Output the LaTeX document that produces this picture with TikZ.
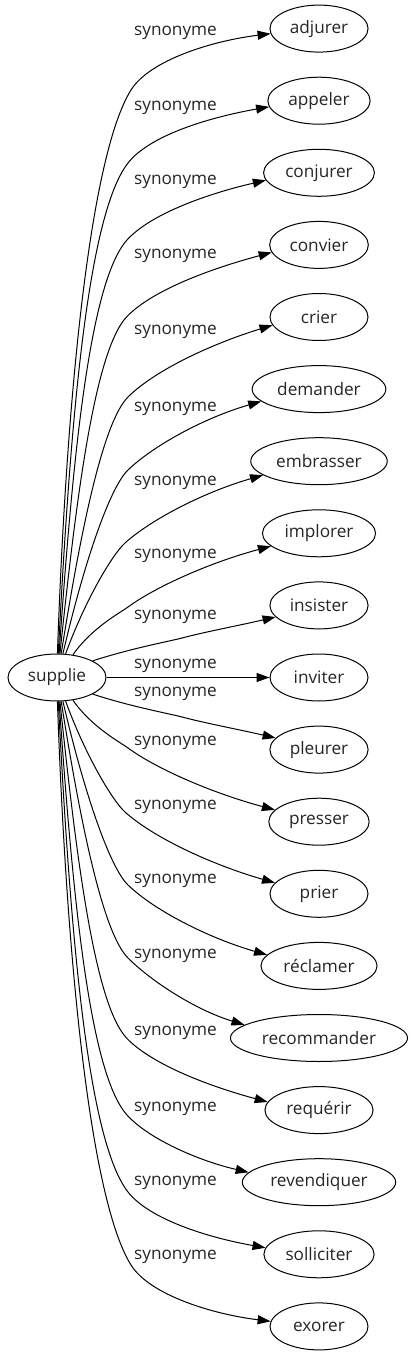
\documentclass[tikz,border=0pt]{standalone}
\usepackage{fontspec}
\setmainfont{Open Sans}
\usetikzlibrary{arrows.meta,shapes.geometric}
\begin{document}
\begin{tikzpicture}[x=1pt,y=1pt,
  every node/.style={font=\fontsize{17.2}{21}\selectfont, text=black!85},
  ell/.style={draw=black, line width=1pt, ellipse, minimum width=98pt, minimum height=47pt, inner xsep=5.5pt, inner ysep=2pt},
  lbl/.style={inner sep=0pt},
  edge/.style={draw, line width=1pt, -{Triangle[length=13pt,width=9pt]}}]
\fill[white] (0,-677.5) rectangle (410,677.5);
\node[ell] (supplie) at (57,0) {supplie};
\node[ell] (inviter) at (319,0) {inviter};
\draw[edge] (supplie) -- (inviter);
% upper edges
\foreach \nm/\txt/\k/\sa/\ts/\px/\py/\tp/\tt/\ta in {
 adjurer/adjurer/9/89/88/131/587.5/58/7/186,
 appeler/appeler/8/87/87/128/514.5/52/10/187,
 conjurer/conjurer/7/85/86/127/437.5/48/13/188,
 convier/convier/6/83/84/127/361/46/15/189,
 crier/crier/5/80/81/128/280.5/45/17/190,
 demander/demander/4/76/77/128/207.5/44/16/192,
 embrasser/embrasser/3/70/70/125/134.5/42/16/194,
 implorer/implorer/2/55/55/128/70.5/36/15/195,
 insister/insister/1/25/18/182/39.5/15/13/195}{
 \node[ell] (\nm) at (319,{72.1*\k}) {\txt};
 \pgfmathtruncatemacro\ip{\tp+180}
 \pgfmathtruncatemacro\it{\tt+180}
 \draw[edge] (supplie.\sa) to[out=\ts, in=\ip, out looseness=1.15, in looseness=0.35] (\px,\py)
   to[out=\tp, in=\it, out looseness=0.6, in looseness=1] (\nm.\ta);
}
% lower edges
\foreach \nm/\txt/\k/\sa/\ts/\px/\py/\tp/\tt/\ta in {
 exorer/exorer/9/89/88/131/587.5/58/7/186,
 solliciter/solliciter/8/87/87/128/514.5/52/10/187,
 revendiquer/revendiquer/7/85/86/127/437.5/48/13/188,
 requerir/requérir/6/83/84/127/361/46/15/189,
 recommander/recommander/5/80/81/128/280.5/45/17/190,
 reclamer/réclamer/4/76/77/128/207.5/44/16/192,
 prier/prier/3/70/70/125/134.5/42/16/194,
 presser/presser/2/55/55/128/70.5/36/15/195,
 pleurer/pleurer/1/25/18/182/39.5/15/13/195}{
 \node[ell] (\nm) at (319,{-72.1*\k}) {\txt};
 \pgfmathtruncatemacro\sb{360-\sa}
 \pgfmathtruncatemacro\tb{360-\ta}
 \pgfmathtruncatemacro\ip{180-\tp}
 \pgfmathtruncatemacro\it{180-\tt}
 \draw[edge] (supplie.\sb) to[out=-\ts, in=\ip, out looseness=1.15, in looseness=0.35] (\px,-\py)
   to[out=-\tp, in=\it, out looseness=0.6, in looseness=1] (\nm.\tb);
}
% labels
\foreach \i/\yy in {1/644.5,2/569.5,3/495.5,4/421.5,5/345.5,6/268.5,7/194.5,8/121.5,9/60.5,10/12,
  11/-16,12/-65.5,13/-129.5,14/-203.5,15/-278.5,16/-355.5,17/-431.5,18/-505.5,19/-579.5}{
 \node[lbl] (lab\i) at (175.5,\yy) {synonyme};
}
\end{tikzpicture}
\end{document}
